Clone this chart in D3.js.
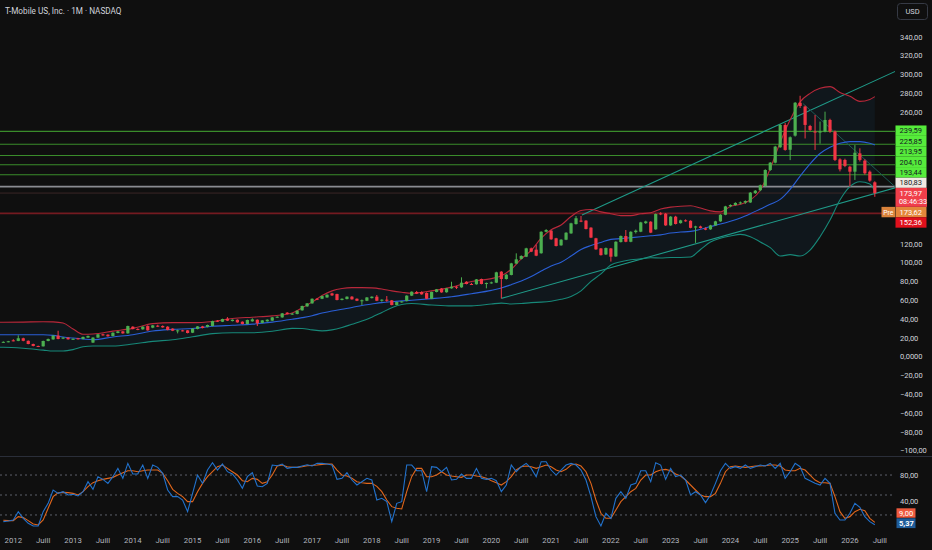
<!DOCTYPE html>
<html><head><meta charset="utf-8">
<script src="https://cdn.jsdelivr.net/npm/d3@7"></script>
<style>html,body{margin:0;padding:0;background:#0f0f0f;}svg{display:block;}</style>
</head><body>
<svg id="c" width="932" height="550"></svg>
<script>
// ---------- DATA (monthly, month index 0 = Jan 2012) ----------
const startMonth = -2;
const opens = [
15.2,15.8,17.4,16.8,19.6,16.9,13.5,11.4,11.0,16.7,
18.4,22.4,19.2,20.3,18.5,19.6,18.8,20.3,15.0,20.3,
23.8,23.4,22.0,25.2,26.9,24.8,31.9,29.5,29.1,32.6,
30.9,33.0,32.6,31.9,29.8,27.6,28.0,28.0,25.5,29.5,
32.2,31.6,32.6,38.3,37.2,40.4,37.9,39.3,37.2,34.8,
37.6,39.3,36.0,37.6,38.3,41.8,41.8,46.8,45.4,45.4,
49.3,53.5,56.7,61.6,61.6,63.0,67.3,66.6,60.3,61.3,
63.8,61.6,59.5,59.5,62.3,63.8,59.5,60.6,59.9,55.0,
58.1,59.2,64.9,68.8,68.8,67.7,61.6,68.8,72.5,68.5,
72.7,74.4,73.7,79.7,77.3,77.0,82.6,77.5,78.4,78.7,
90.4,82.6,86.9,99.0,104.0,106.3,115.2,113.8,110.0,132.8,
134.0,125.9,118.4,124.4,131.1,141.0,144.7,144.7,137.2,125.9,
115.1,108.7,115.1,106.6,121.9,128.3,122.2,132.5,132.9,142.0,
143.5,135.4,152.4,152.0,139.6,148.9,142.0,145.0,144.5,137.3,
138.5,136.5,135.4,139.6,143.9,150.9,160.0,161.3,163.5,164.0,
164.0,174.0,177.0,181.5,198.5,206.3,222.7,246.4,220.0,235.0,
270.0,266.0,245.3,239.4,238.3,239.4,251.7,239.4,209.8,209.2,
202.0,196.7,216.2,208.5,196.7,185.4];
const highs = [
16.3,16.8,18.6,22.7,20.2,17.3,13.9,11.8,17.1,19.3,
22.8,27.6,20.8,20.7,19.5,20.0,21.4,22.5,20.8,24.2,
24.5,23.9,25.9,27.4,27.3,33.0,32.4,30.2,32.3,33.4,
33.7,34.0,33.3,32.5,30.2,28.8,28.6,28.4,30.2,32.6,
32.8,34.1,38.3,38.9,40.4,42.1,39.7,39.7,37.6,39.4,
40.8,39.7,39.0,39.7,42.2,42.9,46.5,47.4,46.5,49.3,
54.3,57.1,62.0,62.3,64.9,66.3,68.0,67.0,62.0,64.2,
64.5,62.0,60.8,63.4,64.2,65.6,61.0,64.5,60.3,58.5,
59.2,65.3,69.5,69.9,69.5,68.5,69.2,72.0,73.0,73.1,
79.7,75.3,84.4,80.2,78.5,82.6,83.0,78.8,79.8,90.3,
91.0,87.8,99.8,109.9,107.8,115.8,116.0,119.1,133.4,135.6,
134.6,126.4,125.0,132.4,142.4,149.6,149.6,145.2,137.7,126.4,
115.6,116.1,115.6,122.8,128.9,134.7,133.4,135.2,143.4,144.6,
144.1,152.3,153.7,152.8,149.5,149.8,145.6,146.0,145.0,139.2,
139.3,137.5,140.2,144.5,151.5,160.4,162.0,164.2,165.0,166.2,
175.1,177.2,183.0,199.3,207.0,224.2,247.2,248.5,234.2,270.8,
277.4,267.0,246.5,257.0,250.0,260.5,253.0,240.5,211.0,210.5,
203.0,225.0,221.6,210.0,198.0,186.5];
const lows = [
14.8,15.3,16.3,16.5,16.4,13.2,11.0,10.2,10.8,16.4,
18.0,18.5,18.7,18.1,18.1,18.2,18.4,20.0,14.5,20.0,
22.3,21.3,21.6,24.9,24.4,24.5,29.0,28.2,28.7,27.6,
30.3,31.5,30.8,28.0,27.2,24.8,26.9,24.8,25.1,29.1,
30.1,31.2,32.2,37.0,36.8,37.9,37.5,36.1,34.4,34.4,
37.2,32.6,35.6,37.2,37.9,41.4,41.4,45.0,44.5,45.0,
48.9,53.0,56.3,60.2,61.2,62.6,64.6,59.9,59.9,60.9,
60.6,59.1,55.0,59.1,61.9,59.1,58.5,58.5,54.6,54.6,
57.4,58.8,64.5,66.6,65.9,61.2,61.2,68.4,68.0,68.1,
72.3,72.0,73.3,76.9,76.2,76.6,76.9,72.7,77.6,78.3,
62.0,82.0,86.5,98.5,103.4,105.9,111.2,106.9,109.5,132.2,
124.3,117.2,117.9,123.9,130.6,140.5,143.0,135.3,126.1,113.6,
107.5,108.2,101.1,106.1,121.4,121.7,121.7,131.0,132.4,141.2,
131.4,134.9,150.5,139.1,139.1,140.6,141.5,143.5,136.5,121.0,
136.3,134.5,134.9,139.1,143.4,150.4,158.9,160.5,162.0,162.5,
163.5,173.0,176.0,180.8,197.5,205.5,222.0,219.0,209.0,234.0,
264.5,232.0,240.0,219.8,226.5,238.5,238.0,208.0,197.0,201.5,
180.8,187.9,207.5,193.5,186.0,170.0];
const closes = [
15.8,16.4,16.8,19.6,16.9,13.5,11.4,10.6,16.7,18.8,
22.4,18.8,20.3,18.5,19.0,18.5,21.0,22.0,20.3,23.8,
22.7,21.7,25.5,26.9,24.8,32.6,29.5,29.1,31.9,28.0,
33.3,31.9,31.2,28.4,27.6,28.0,27.3,25.2,29.8,32.2,
30.5,33.7,37.9,37.6,40.0,38.3,39.3,36.5,34.8,39.0,
39.7,35.5,38.6,39.3,41.8,42.5,46.1,45.4,45.8,48.9,
53.9,56.7,61.6,61.2,64.5,65.9,65.2,60.3,61.6,63.8,
61.0,59.5,60.0,63.0,63.8,59.5,60.6,60.3,55.0,58.1,
58.8,64.9,69.1,67.0,66.3,61.6,68.8,71.6,68.4,72.7,
74.4,73.5,78.7,77.3,76.6,82.2,77.3,78.4,79.0,89.7,
82.6,87.2,99.2,103.5,107.1,115.2,111.7,107.4,132.8,134.7,
124.8,117.7,124.4,131.8,141.8,147.2,143.6,135.8,126.6,114.1,
108.0,115.5,106.3,122.2,128.3,122.2,132.8,134.0,142.8,143.8,
131.9,151.7,151.3,139.6,148.9,141.1,145.0,144.0,137.0,138.5,
136.8,135.0,139.6,143.9,150.9,159.8,161.3,163.5,164.0,165.5,
174.4,176.5,182.2,198.5,206.3,223.4,246.4,219.8,233.3,270.0,
266.5,246.4,241.1,238.3,239.4,251.7,239.4,209.2,199.2,202.8,
196.7,216.9,209.2,195.0,187.2,173.97];

// Bollinger bands read at sample months
const bbMonths = [-3,-2,2,6,8,10,12,14,16,20,
24,28,32,36,40,44,48,52,56,58,
60,62,64,66,68,70,72,74,76,78,
80,84,88,92,96,98,100,102,104,106,
108,110,112,114,116,118,120,122,124,126,
128,130,132,134,136,138,140,142,144,146,
148,150,152,154,156,158,160,162,164,166,
168,170,172,173];
const bbUpper = [36.6,36.6,36.8,37.2,37.0,35.8,29.5,23.8,24.1,27.2,
30.1,35.2,36.2,36.2,37.5,40.6,42.0,43.4,46.5,52.0,
58.0,65.0,70.0,72.5,73.4,73.4,73.2,72.0,70.0,68.5,
67.4,70.0,74.0,80.0,83.0,86.0,93.0,104.0,113.0,126.0,
135.0,140.0,149.0,155.5,156.5,154.0,152.0,150.0,150.0,152.0,
153.0,157.0,159.0,160.0,160.5,158.0,155.0,154.0,159.7,162.0,
166.6,177.0,200.0,228.0,252.0,271.0,280.0,285.3,287.1,281.0,
277.0,271.5,273.5,276.5];
const bbMid = [23.4,23.4,23.4,23.4,22.7,21.0,19.8,18.8,18.1,21.0,
23.4,27.3,29.0,30.0,32.3,33.4,34.6,36.8,39.8,41.5,
43.5,46.5,48.5,50.5,52.3,54.5,56.0,57.5,58.5,59.3,
60.0,61.7,63.8,67.0,70.5,73.0,76.6,80.5,85.3,91.0,
96.5,100.4,107.0,114.0,118.2,121.5,124.7,125.5,126.5,127.5,
128.6,129.5,131.5,132.5,133.2,135.5,138.4,141.0,144.0,147.5,
152.0,157.0,162.0,167.3,178.0,192.0,205.0,216.0,222.7,226.9,
228.7,228.7,226.9,225.2];
const bbLower = [10.0,10.0,9.0,7.0,6.0,6.0,7.5,10.5,11.4,11.4,
13.5,16.3,18.0,21.2,24.5,25.5,25.5,27.0,30.1,30.0,
28.5,27.5,28.5,31.0,34.5,38.0,42.0,47.0,52.0,55.5,
56.5,55.0,54.0,54.0,56.0,57.0,56.0,56.5,57.5,58.0,
59.0,61.0,64.0,70.0,80.0,88.0,97.5,101.0,103.0,104.0,
105.2,105.0,105.5,105.5,106.0,114.0,122.0,126.0,128.3,130.0,
127.6,122.0,116.0,107.0,108.5,107.0,113.4,127.6,145.3,166.6,
180.8,186.0,183.5,176.0];

// Stochastic %K / %D (same months as candles)
const stochK = [
10,11,12.5,25,15,7.5,3.5,3.5,25,37.5,
57.5,52.5,55,50,51,48.5,55,70,58.5,77.5,
73.5,67.5,77.5,90,75,97.5,81.5,81.5,95,75,
95,91.5,82.5,57.5,47.5,47.5,42.5,25,52.5,80,
67.5,87.5,98.5,87.5,96.5,85,81.5,72.5,60,77.5,
83.5,63.5,62.5,67.5,95,94,96.5,90,91.5,91.5,
93.5,95.5,93.5,97.5,97.5,96.5,95,73.5,75,83.5,
72.5,65,70,75,72.5,42.5,45,40,10,37.5,
40,95,95,86.5,86.5,55,92.5,91.5,85,91.5,
72.5,73.5,81.5,75,75,90,75,73.5,75,71.5,
55,65,95,85,92.5,97.5,90,77.5,100,100,
87.5,80,87.5,95,97.5,95,87.5,72.5,47.5,17.5,
3.5,22.5,15,45,55,45,65,67.5,86.5,86.5,
70,98.5,95,73.5,90,77.5,80,72.5,50,55,
50,38.5,50,67.5,86.5,97.5,90,92.5,90,95,
90,92.5,95,93.5,97.5,90,97.5,75,85,97.5,
92.5,75,71.5,67.5,65,75,67.5,22.5,12.5,12.5,
22.5,37.5,31.5,17.5,10,5.37];
const stochD = [
12,11.5,11.5,17.5,16,11.5,6.5,5,12.5,30,
47.5,53.5,54,53.5,52.5,50,55,62.5,68.5,71.5,
73.5,75,76.5,80,83.5,86.5,86.5,85,86.5,87.5,
87.5,87.5,82.5,71.5,58.5,52.5,47.5,40,40,55,
67.5,77.5,85,92.5,95,90,85,80,71.5,70,
75,73.5,67.5,70,80,93.5,95,92.5,91.5,91.5,
92.5,94,94.5,95,96,96.5,96.5,87.5,80,78.5,
75,70,68.5,67.5,67.5,63,55,42.5,32.5,30,
29,55,77.5,90,90,77.5,77.5,80,85,80,
78.5,77.5,76.5,80,80,78.5,77.5,75,71.5,68.5,
65,70,77.5,87.5,92.5,93.5,92.5,90,92.5,95,
92.5,87.5,85,88.5,95,96.5,93.5,85,67.5,42.5,
22.5,15,15,27.5,40,47.5,55,60,72.5,80,
80,85,87.5,88.5,86.5,81.5,78.5,72.5,65,57.5,
50,47.5,47.5,52.5,67.5,85,92.5,93.5,92.5,91.5,
92.5,93.5,93.5,94,95,95,93.5,87.5,86.5,86.5,
90,87.5,80,72.5,68.5,68.5,67.5,47.5,25,15,
17.5,25,28.5,26.5,15,9];

// Drawings and price levels
const greenLevels = [239.59, 225.85, 213.95, 204.10, 193.44];
const keyLevel = 180.83;
const supportLevel = 152.36;
const lastPrice = 173.97;
const prePrice = 173.62;
const countdown = "08:46:33";
const channelUpper = [[114.2, 150.7], [177.3, 303.8]];
const channelLower = [[98.0, 62.0], [177.4, 180.0]];
const descLine = [[158.6, 269.0], [177.4, 179.1]];
const years = [2012,2013,2014,2015,2016,2017,2018,2019,2020,2021,2022,2023,2024,2025,2026];
const priceTicks = d3.range(-100, 341, 20);
const stochTicks = [80, 40];
const stochBands = [80, 50, 20];
const title = "T-Mobile US, Inc. · 1M · NASDAQ";

// ---------- CHART ----------
const svg = d3.select('#c');
const FONT = "Roboto, 'Noto Sans', sans-serif";
const plotR = 895;
const x = d3.scaleLinear().domain([0, 174]).range([13.3, 879.8]);
const y = d3.scaleLinear().domain([0, 340]).range([356.7, 36.9]);
const ys = d3.scaleLinear().domain([0, 100]).range([528.3, 461.7]);

svg.append('rect').attr('width', 932).attr('height', 550).attr('fill', '#0f0f0f');
const defs = svg.append('defs');
defs.append('clipPath').attr('id', 'cm').append('rect').attr('x', 0).attr('y', 0).attr('width', plotR).attr('height', 456);
defs.append('clipPath').attr('id', 'cs').append('rect').attr('x', 0).attr('y', 457).attr('width', plotR).attr('height', 76);

const main = svg.append('g').attr('clip-path', 'url(#cm)');
const bb = bbMonths.map((m, i) => ({m, u: bbUpper[i], c: bbMid[i], l: bbLower[i]}));

main.append('path').datum(bb)
  .attr('d', d3.area().x(d => x(d.m)).y0(d => y(d.l)).y1(d => y(d.u)).curve(d3.curveMonotoneX))
  .attr('fill', 'rgba(33,150,243,0.06)');

// horizontal levels
main.selectAll('.lv').data(greenLevels).join('line')
  .attr('x1', 0).attr('x2', plotR).attr('y1', d => y(d)).attr('y2', d => y(d))
  .attr('stroke', '#3a8c2b').attr('stroke-width', 1.1);
main.append('line').attr('x1', 0).attr('x2', plotR).attr('y1', y(keyLevel)).attr('y2', y(keyLevel))
  .attr('stroke', '#8a8c92').attr('stroke-width', 1.7);
main.append('line').attr('x1', 0).attr('x2', plotR).attr('y1', y(supportLevel)).attr('y2', y(supportLevel))
  .attr('stroke', '#741a20').attr('stroke-width', 1.8);
main.append('line').attr('x1', 0).attr('x2', plotR).attr('y1', y(lastPrice)).attr('y2', y(lastPrice))
  .attr('stroke', '#3a2626').attr('stroke-width', 1);

// trend lines
const tl = (pts, col, w) => main.append('line')
  .attr('x1', x(pts[0][0])).attr('y1', y(pts[0][1])).attr('x2', x(pts[1][0])).attr('y2', y(pts[1][1]))
  .attr('stroke', col).attr('stroke-width', w);
tl(channelUpper, '#1f9a88', 1.1);
tl(channelLower, '#1f9a88', 1.1);
tl(descLine, '#1d5a55', 1);

// BB lines
const bl = (key, col) => main.append('path').datum(bb)
  .attr('d', d3.line().x(d => x(d.m)).y(d => y(d[key])).curve(d3.curveMonotoneX))
  .attr('fill', 'none').attr('stroke', col).attr('stroke-width', 1.1);
bl('u', '#b8283a');
bl('c', '#2a5fd6');
bl('l', '#178878');

// candles
const candles = closes.map((c, i) => ({m: startMonth + i, o: opens[i], h: highs[i], l: lows[i], c}));
const up = '#4caf50', dn = '#f23645';
const cg = main.append('g');
cg.selectAll('.w').data(candles).join('line')
  .attr('x1', d => x(d.m)).attr('x2', d => x(d.m)).attr('y1', d => y(d.h)).attr('y2', d => y(d.l))
  .attr('stroke', d => d.c >= d.o ? up : dn).attr('stroke-width', 1);
cg.selectAll('.b').data(candles).join('rect')
  .attr('x', d => x(d.m) - 1.6).attr('width', 3.2)
  .attr('y', d => y(Math.max(d.o, d.c)))
  .attr('height', d => Math.max(1, Math.abs(y(d.o) - y(d.c))))
  .attr('fill', d => d.c >= d.o ? up : dn);

// ---------- STOCH PANEL ----------
svg.append('line').attr('x1', 0).attr('x2', 932).attr('y1', 456.5).attr('y2', 456.5)
  .attr('stroke', '#2a2e39').attr('stroke-width', 1);
const sp = svg.append('g').attr('clip-path', 'url(#cs)');
sp.selectAll('.sb').data(stochBands).join('line')
  .attr('x1', 0).attr('x2', plotR).attr('y1', d => ys(d)).attr('y2', d => ys(d))
  .attr('stroke', '#5d606b').attr('stroke-dasharray', '2,3').attr('stroke-width', 1);
const sl = (arr, col) => sp.append('path').datum(arr)
  .attr('d', d3.line().x((d, i) => x(startMonth + i)).y(d => ys(d)))
  .attr('fill', 'none').attr('stroke', col).attr('stroke-width', 1.1);
sl(stochD, '#e0661c');
sl(stochK, '#2272cc');

// ---------- TEXT ----------
svg.append('text').attr('x', 5).attr('y', 13.5).text(title)
  .attr('font-family', FONT).attr('font-size', 8.2).attr('fill', '#d1d4dc');

svg.append('rect').attr('x', 897.5).attr('y', 3.5).attr('width', 30).attr('height', 16).attr('rx', 3)
  .attr('fill', 'none').attr('stroke', '#363a45');
svg.append('text').attr('x', 912.5).attr('y', 14.2).attr('text-anchor', 'middle').text('USD')
  .attr('font-family', FONT).attr('font-size', 7.5).attr('fill', '#d1d4dc');

const fmt = v => v === 0 ? '0,0000' : (v < 0 ? '\u2212' : '') + Math.abs(v).toFixed(2).replace('.', ',');

// price labels stacked around the last price box
const boxH = 10.4;
const anchorY = y(lastPrice);
const anchorTop = anchorY - 5.2, anchorBot = anchorY + 13.8;
const above = [
  {v: keyLevel, bg: '#efe8e2', fg: '#131722'},
  ...greenLevels.slice().reverse().map(v => ({v, bg: '#56eb3b', fg: '#131722'}))
];
let stackTop = anchorTop;
above.forEach(d => { d.cy = Math.min(y(d.v), stackTop - boxH / 2); stackTop = d.cy - boxH / 2; });
const below = [
  {v: prePrice, bg: '#e4873a', fg: '#ffffff', pre: true},
  {v: supportLevel, bg: '#e0101c', fg: '#ffffff'}
];
let stackBot = anchorBot;
below.forEach(d => { d.cy = Math.max(y(d.v), stackBot + boxH / 2); stackBot = d.cy + boxH / 2; });
const labels = above.concat(below);

const occupied = labels.map(d => d.cy).concat([anchorY, anchorY + 9]);
priceTicks.filter(v => occupied.every(c => Math.abs(y(v) - c) > 9)).forEach(v => {
  svg.append('text').attr('x', 900).attr('y', y(v) + 2.7).text(fmt(v))
    .attr('font-family', FONT).attr('font-size', 7.5).attr('fill', '#d1d4dc');
});

labels.forEach(d => {
  svg.append('rect').attr('x', 895.5).attr('y', d.cy - boxH / 2).attr('width', 31).attr('height', boxH)
    .attr('fill', d.bg);
  svg.append('text').attr('x', 899.5).attr('y', d.cy + 2.7).text(fmt(d.v))
    .attr('font-family', FONT).attr('font-size', 7.5).attr('fill', d.fg);
  if (d.pre) {
    svg.append('rect').attr('x', 881.5).attr('y', d.cy - boxH / 2).attr('width', 13.5).attr('height', boxH)
      .attr('fill', '#d9823a');
    svg.append('text').attr('x', 888.2).attr('y', d.cy + 2.6).attr('text-anchor', 'middle').text('Pre')
      .attr('font-family', FONT).attr('font-size', 6.8).attr('fill', '#ffffff');
  }
});
svg.append('rect').attr('x', 895.5).attr('y', anchorTop).attr('width', 31.5).attr('height', anchorBot - anchorTop)
  .attr('fill', '#f03e4a');
svg.append('text').attr('x', 899.5).attr('y', anchorY + 2.7).text(fmt(lastPrice))
  .attr('font-family', FONT).attr('font-size', 7.5).attr('fill', '#ffffff');
svg.append('text').attr('x', 899).attr('y', anchorY + 11.4).text(countdown)
  .attr('font-family', FONT).attr('font-size', 7.3).attr('fill', '#ffffff');

stochTicks.forEach(v => {
  svg.append('text').attr('x', 900).attr('y', ys(v) + 2.7).text(fmt(v))
    .attr('font-family', FONT).attr('font-size', 7.5).attr('fill', '#d1d4dc');
});
const lastK = stochK[stochK.length - 1], lastD = stochD[stochD.length - 1];
const dY = 513, kY = 523;
svg.append('rect').attr('x', 896.5).attr('y', dY - 4.7).attr('width', 19).attr('height', 9.4).attr('fill', '#ee5a3e');
svg.append('text').attr('x', 899).attr('y', dY + 2.6).text(fmt(lastD))
  .attr('font-family', FONT).attr('font-size', 7.5).attr('fill', '#ffffff');
svg.append('rect').attr('x', 896.5).attr('y', kY - 4.7).attr('width', 19).attr('height', 9.8).attr('fill', '#1f5c99');
svg.append('text').attr('x', 899).attr('y', kY + 2.8).text(fmt(lastK))
  .attr('font-family', FONT).attr('font-size', 7.5).attr('font-weight', 'bold').attr('fill', '#ffffff');

const xTicks = [];
years.forEach(yr => {
  xTicks.push({m: (yr - 2012) * 12, t: String(yr)});
  xTicks.push({m: (yr - 2012) * 12 + 6, t: 'Juill'});
});
svg.selectAll('.xt').data(xTicks).join('text')
  .attr('x', d => x(d.m)).attr('y', 542.5).attr('text-anchor', 'middle').text(d => d.t)
  .attr('font-family', FONT).attr('font-size', 7.8).attr('fill', '#b2b5be');
</script>
</body></html>
